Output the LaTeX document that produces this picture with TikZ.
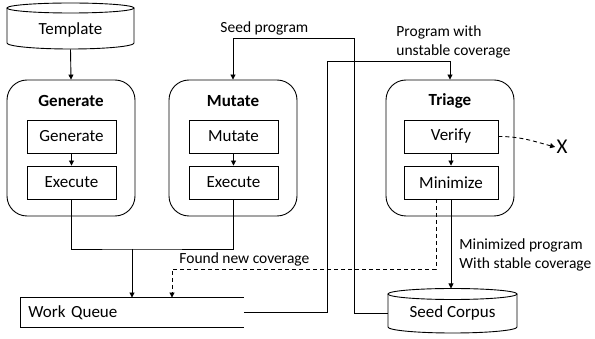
\documentclass[tikz,border=0pt]{standalone}
\usepackage{fontspec}
\setmainfont{Carlito}
\usetikzlibrary{arrows.meta}
\begin{document}
\begin{tikzpicture}[x=1pt,y=-1pt, line width=0.9pt,
  box/.style={draw, minimum width=89pt, minimum height=33pt, inner sep=0pt, font=\fontsize{17}{20}\selectfont},
  wbox/.style={draw, minimum width=94pt, minimum height=33pt, inner sep=0pt, font=\fontsize{17}{20}\selectfont},
  outer/.style={draw, rounded corners=20pt, minimum width=128pt, minimum height=136pt},
  ttl/.style={font=\fontsize{17}{20}\selectfont\bfseries, inner sep=0pt},
  arr/.style={-{Triangle[length=5pt,width=5pt]}},
  dsh/.style={dash pattern=on 4pt off 3pt},
  lbl/.style={font=\fontsize{15.5}{19}\selectfont, align=left, inner sep=0pt}]
\useasboundingbox (0,0) rectangle (595,339);

% Template cylinder
\node[minimum width=127pt, minimum height=39pt, inner sep=0pt, font=\fontsize{17}{20}\selectfont] (tmpl) at (70.5,29.5) {Template};
\draw (70.5,8) ellipse [x radius=63.5pt, y radius=5pt];
\draw (7,8) -- (7,43) arc[start angle=180, end angle=360, x radius=63.5pt, y radius=6pt] -- (134,8);

% Generate
\node[outer] (gen) at (71,148) {};
\node[ttl] (gent) at (71,101) {Generate};
\node[box] (gen1) at (71.5,136.5) {Generate};
\node[box] (gen2) at (71.5,182.5) {Execute};
\draw[arr] (gen1) -- (gen2);

% Mutate
\node[outer] (mut) at (233,148) {};
\node[ttl] (mutt) at (233,101) {Mutate};
\node[box] (mut1) at (233.5,136.5) {Mutate};
\node[box] (mut2) at (233.5,182.5) {Execute};
\draw[arr] (mut1) -- (mut2);

% Triage
\node[outer] (tri) at (450,148) {};
\node[ttl] (trit) at (450,101) {Triage};
\node[wbox] (tri1) at (451,136.5) {Verify};
\node[wbox] (tri2) at (451,182.5) {Minimize};
\draw[arr] (tri1) -- (tri2);

% X
\node[font=\fontsize{21}{24}\selectfont, inner sep=1pt] (xx) at (562,147) {X};

% Work queue
\node[anchor=west, minimum height=29pt, text width=207pt, align=left, inner xsep=8pt, inner ysep=0pt, font=\fontsize{17}{20}\selectfont] (wq) at (20,312.5) {Work Queue};
\draw (wq.north east) -- (wq.north west) -- (wq.south west) -- (wq.south east);

% Seed corpus cylinder
\node[minimum width=129pt, minimum height=49pt, inner sep=0pt, font=\fontsize{17}{20}\selectfont] (seed) at (452.5,313) {Seed Corpus};
\draw (452.5,294) ellipse [x radius=64.5pt, y radius=5.5pt];
\draw (388,294) -- (388,327) arc[start angle=180, end angle=360, x radius=64.5pt, y radius=6pt] -- (517,294);
\coordinate (seedtop) at (451,288.5);

% connectors
\draw[arr] (tmpl.south) -- (gen.north);
\coordinate (merge) at (132,249);
\draw (gen2.south) |- (merge) -| (mut2.south);
\draw[arr] (merge) -- (merge |- wq.north);

\coordinate (sp1) at (354,38);
\draw[arr] (seed.west) -| (sp1) -| (mut.north);
\node[lbl, anchor=west] (splbl) at (220,28) {Seed program};

\coordinate (up1) at (327,61);
\draw[arr] (wq.east) -| (up1) -| (tri.north);
\node[lbl, anchor=west] (uplbl) at (396,41.5) {Program with\\unstable coverage};

\draw[dsh, arr] (tri1.east) to[out=0, in=165] (xx.west);

\draw[arr] (tri2.south) -- (seedtop);
\node[lbl, anchor=west] (mplbl) at (459,254.5) {Minimized program\\With stable coverage};

\coordinate (fa) at (436,199);
\coordinate (fc) at (172,269);
\draw[dsh, arr] (fa) |- (fc) -- (fc |- wq.north);
\node[lbl, anchor=west] (fnlbl) at (179,259.5) {Found new coverage};
\end{tikzpicture}
\end{document}
